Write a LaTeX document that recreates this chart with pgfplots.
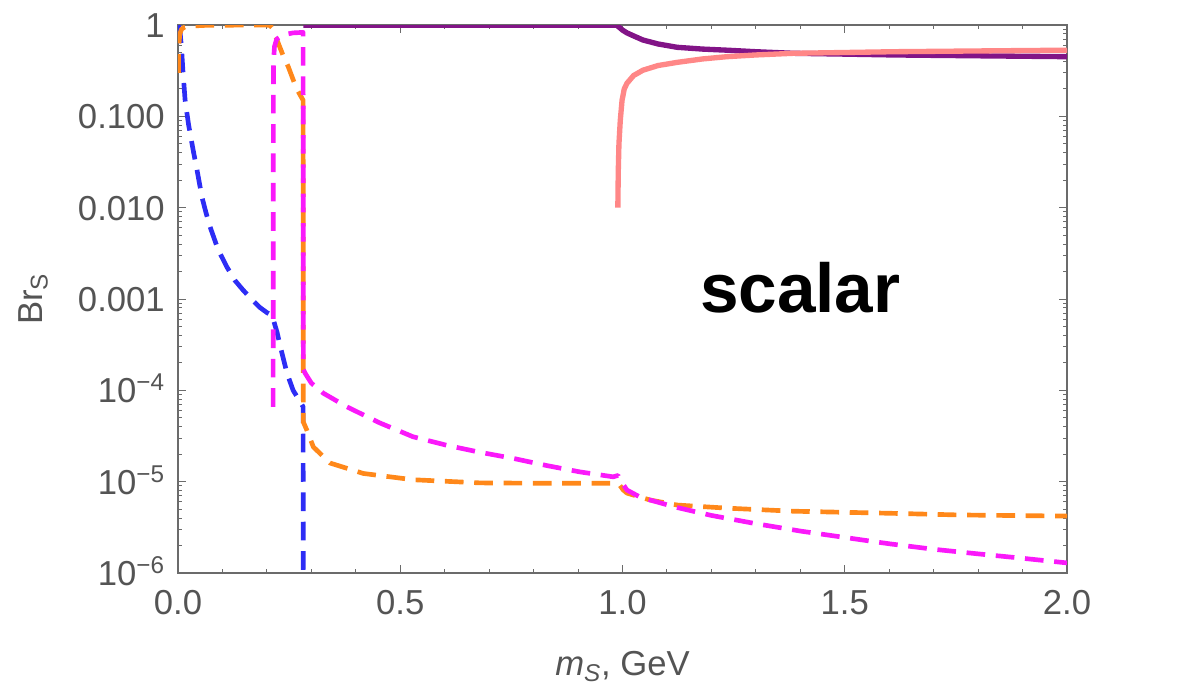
\documentclass[border=0pt]{standalone}
\usepackage{fontspec}
\setmainfont{Liberation Sans}
\usepackage{pgfplots}
\pgfplotsset{compat=1.18}

\definecolor{framegray}{gray}{0.42}
\definecolor{labelgray}{gray}{0.33}
\definecolor{cgamma}{RGB}{45,45,245}
\definecolor{cee}{RGB}{255,136,26}
\definecolor{cmumu}{RGB}{250,25,250}
\definecolor{cpipi}{RGB}{130,20,135}
\definecolor{ckk}{RGB}{255,135,135}

\newcommand{\ticksize}{\fontsize{26}{30}\selectfont}

\begin{document}
\begin{tikzpicture}
\path[use as bounding box] (-133.5pt,-87.75pt) rectangle (754.5pt,429.75pt);
\begin{axis}[
  at={(0pt,0pt)}, anchor=south west,
  scale only axis, width=666.75pt, height=411pt,
  xmin=0, xmax=2, ymin=1e-6, ymax=1,
  ymode=log,
  axis line style={framegray, line width=1pt},
  tick style={framegray, line width=0.7pt},
  tick align=inside,
  major tick length=6pt, minor tick length=3pt,
  xtick={0,0.5,1,1.5,2},
  xticklabels={0.0,0.5,1.0,1.5,2.0},
  minor x tick num=4,
  ytick={1e-6,1e-5,1e-4,1e-3,1e-2,1e-1,1},
  yticklabels={10\textsuperscript{−6},10\textsuperscript{−5},10\textsuperscript{−4},0.001,0.010,0.100,1},
  minor ytick={2e-6,3e-6,4e-6,5e-6,6e-6,7e-6,8e-6,9e-6,
               2e-5,3e-5,4e-5,5e-5,6e-5,7e-5,8e-5,9e-5,
               2e-4,3e-4,4e-4,5e-4,6e-4,7e-4,8e-4,9e-4,
               2e-3,3e-3,4e-3,5e-3,6e-3,7e-3,8e-3,9e-3,
               2e-2,3e-2,4e-2,5e-2,6e-2,7e-2,8e-2,9e-2,
               0.2,0.3,0.4,0.5,0.6,0.7,0.8,0.9},
  tick label style={font=\ticksize, text=labelgray, inner sep=0pt},
  xticklabel style={anchor=north, yshift=-12.75pt},
  yticklabel style={anchor=base east, xshift=-9.75pt, yshift=-9.3pt},
  xlabel={\textit{m}\textsubscript{\textit{S}}, GeV},
  ylabel={Br\textsubscript{S}},
  label style={font=\ticksize, text=labelgray, inner sep=0pt},
  xlabel style={at={(axis description cs:0.5,0)}, anchor=base, yshift=-77pt},
  ylabel style={at={(axis description cs:0,0.5)}, anchor=center, yshift=108.75pt},
  every axis plot/.append style={line join=round},
]

% gamma gamma
\addplot[cgamma, line width=3.5pt, dash pattern=on 14pt off 8pt] coordinates {
 (0,1) (0.0008,1) (0.0011,0.99) (0.002,0.95) (0.0045,0.86) (0.008,0.55)
 (0.011,0.32) (0.016,0.15) (0.024,0.08) (0.034,0.043) (0.044,0.024)
 (0.054,0.013) (0.063,0.0088) (0.072,0.0062) (0.09,0.0035) (0.110,0.00224)
 (0.128,0.0016) (0.146,0.00126) (0.165,0.001) (0.184,0.00081) (0.200,0.00071)
 (0.212,0.00066) (0.217,0.00054) (0.223,0.00043) (0.229,0.00032)
 (0.245,0.000155) (0.259,0.0001) (0.268,8.5e-5) (0.2815,6.6e-5) (0.282,1e-8)
};

% e+ e-
\addplot[cee, line width=3.5pt, dash pattern=on 14pt off 8pt] coordinates {
 (0.00102,0.3) (0.0015,0.5) (0.002,0.6) (0.004,0.8) (0.008,0.9) (0.015,0.95)
 (0.03,0.975) (0.06,0.99) (0.1,0.995) (0.15,0.997) (0.2,0.997) (0.207,0.99)
 (0.212,0.93) (0.216,0.83) (0.2257,0.63) (0.236,0.47) (0.248,0.35)
 (0.258,0.26) (0.267,0.2) (0.2815,0.15) (0.282,4.5e-5) (0.2895,3.7e-5)
 (0.3045,2.4e-5) (0.342,1.6e-5) (0.417,1.23e-5) (0.529,1.05e-5)
 (0.679,9.7e-6) (0.83,9.6e-6) (0.979,9.6e-6) (0.992,9.4e-6) (1.0018,8.1e-6)
 (1.01,7.5e-6) (1.039,6.8e-6) (1.062,6.3e-6) (1.123,5.55e-6) (1.235,5.13e-6)
 (1.384,4.75e-6) (1.609,4.5e-6) (1.759,4.32e-6) (2.0,4.2e-6)
};

% mu+ mu-
\addplot[cmumu, line width=3.5pt, dash pattern=on 14pt off 8pt] coordinates {
 (0.2140,6.6e-5) (0.2142,1e-3) (0.2144,0.02) (0.2146,0.15) (0.215,0.4)
 (0.217,0.58) (0.222,0.7) (0.236,0.78) (0.259,0.82) (0.2815,0.83)
 (0.282,1.7e-4) (0.2857,1.55e-4) (0.30,1.2e-4) (0.327,9.3e-5) (0.38,6.6e-5)
 (0.454,4.4e-5) (0.529,3.1e-5) (0.605,2.5e-5) (0.679,2.1e-5) (0.754,1.8e-5)
 (0.83,1.5e-5) (0.904,1.28e-5) (0.979,1.13e-5) (0.99,1.17e-5) (0.995,1.04e-5)
 (1.01,8.1e-6) (1.039,6.8e-6) (1.062,6.3e-6) (1.12,5.25e-6) (1.2,4.27e-6)
 (1.3,3.47e-6) (1.4,2.88e-6) (1.5,2.45e-6) (1.6,2.09e-6) (1.7,1.82e-6)
 (1.8,1.62e-6) (1.9,1.45e-6) (2.0,1.29e-6)
};

% pi pi
\addplot[cpipi, line width=4pt] coordinates {
 (0.282,0.995) (0.5,0.995) (0.9,0.995) (0.987,0.993) (0.992,0.95)
 (1.0,0.88) (1.01,0.82) (1.025,0.76) (1.046,0.685) (1.08,0.62) (1.123,0.57)
 (1.18,0.545) (1.235,0.53) (1.3,0.51) (1.384,0.49) (1.5,0.48) (1.609,0.47)
 (1.8,0.46) (2.0,0.45)
};

% K K
\addplot[ckk, line width=4pt] coordinates {
 (0.9895,0.01) (0.9905,0.025) (0.992,0.05) (0.995,0.09) (0.999,0.15)
 (1.004,0.2) (1.01,0.23) (1.025,0.28) (1.046,0.32) (1.08,0.36) (1.123,0.39)
 (1.18,0.425) (1.235,0.45) (1.3,0.47) (1.384,0.49) (1.5,0.5) (1.609,0.51)
 (1.8,0.52) (2.0,0.53)
};

\node[anchor=base, font=\fontsize{52}{60}\selectfont\bfseries, inner sep=0pt]
  at (axis cs:1.40,7.2e-4) {scalar};
\end{axis}
\end{tikzpicture}
\end{document}
